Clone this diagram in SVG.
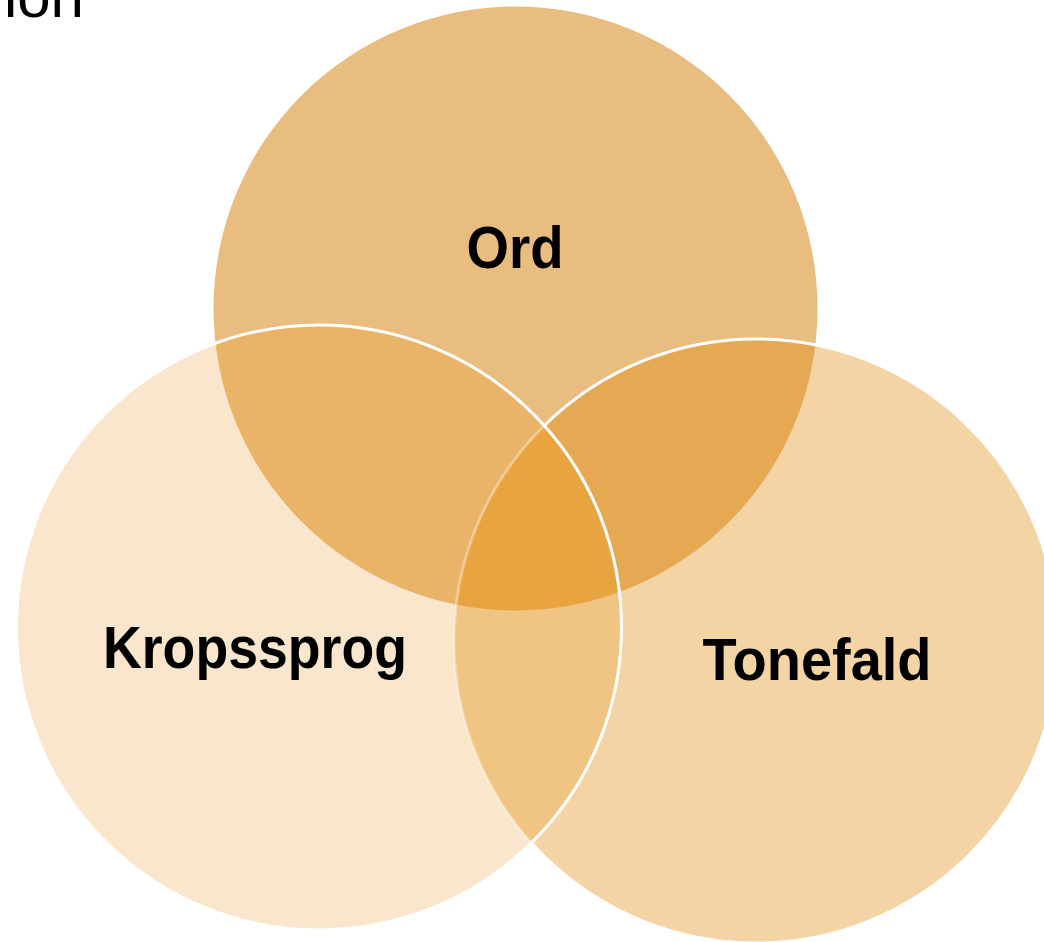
<svg xmlns="http://www.w3.org/2000/svg" width="1044" height="942" viewBox="0 0 1044 942">
  <style>
    .lbl { font-family: "Liberation Sans", Arial, sans-serif; font-weight: bold; font-size: 60px; fill: #000000; text-anchor: middle; }
    .title { font-family: "Liberation Sans", Arial, sans-serif; font-size: 60px; fill: #000000; }
    .edge { fill: none; stroke: #FFFFFF; stroke-width: 3; }
  </style>
  <defs>
    <clipPath id="cO"><circle cx="515.5" cy="308.5" r="302"/></clipPath>
    <clipPath id="cK"><circle cx="319" cy="627.5" r="302.5"/></clipPath>
    <clipPath id="cT"><circle cx="756" cy="641" r="302"/></clipPath>
    <clipPath id="cNotK">
      <path clip-rule="evenodd" d="M-10,-10 H1054 V952 H-10 Z M16.5,627.5 A302.5,302.5 0 1,0 621.5,627.5 A302.5,302.5 0 1,0 16.5,627.5 Z"/>
    </clipPath>
  </defs>

  <rect width="1044" height="942" fill="#FFFFFF"/>
  <text class="title" x="84" y="17" text-anchor="end">ion</text>

  <g id="node-ord">
    <circle cx="515.5" cy="308.5" r="302" fill="#E9BC7F"/>
  </g>
  <g id="node-tonefald">
    <circle cx="756" cy="641" r="302" fill="#F4D4A5"/>
  </g>
  <g id="node-kropssprog">
    <circle cx="319" cy="627.5" r="302.5" fill="#FAE6CC"/>
  </g>

  <g id="overlaps">
    <g clip-path="url(#cO)">
      <circle cx="319" cy="627.5" r="302.5" fill="#E9B468"/>
      <circle cx="756" cy="641" r="302" fill="#E6A953"/>
    </g>
    <g clip-path="url(#cK)">
      <circle cx="756" cy="641" r="302" fill="#F0C483"/>
      <g clip-path="url(#cO)">
        <circle cx="756" cy="641" r="302" fill="#E8A43F"/>
      </g>
    </g>
  </g>

  <g id="connectors">
    <g clip-path="url(#cNotK)">
      <circle class="edge" cx="756" cy="641" r="302"/>
    </g>
    <g clip-path="url(#cK)">
      <circle class="edge" cx="756" cy="641" r="302" stroke-opacity="0.35"/>
    </g>
    <circle class="edge" cx="319" cy="627.5" r="302.5"/>
  </g>

  <g id="labels">
    <text class="lbl" x="515" y="268" textLength="97" lengthAdjust="spacingAndGlyphs">Ord</text>
    <text class="lbl" x="255" y="668" textLength="304" lengthAdjust="spacingAndGlyphs">Kropssprog</text>
    <text class="lbl" x="817" y="680" textLength="229" lengthAdjust="spacingAndGlyphs">Tonefald</text>
  </g>
</svg>
